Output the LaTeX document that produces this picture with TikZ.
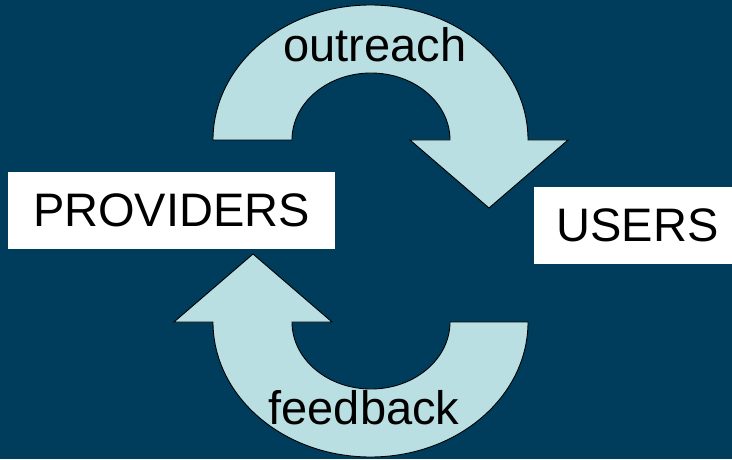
\documentclass[tikz,border=0pt]{standalone}
\usepackage{fontspec}
\setmainfont{Liberation Sans}
\usepackage{xcolor}
\usepackage{tikz}
\usetikzlibrary{positioning}
\definecolor{bgblue}{RGB}{0,61,92}
\definecolor{arrowblue}{RGB}{185,223,226}
\tikzset{box node/.style={rectangle,fill=white,inner sep=0pt,font=\fontsize{47}{56}\selectfont},
	label node/.style={inner sep=0pt,anchor=base,font=\fontsize{47}{56}\selectfont},
	big arrow/.style={fill=arrowblue,draw=black,line width=0.9pt,line join=miter},}

\begin{document}
\begin{tikzpicture}[x=1pt,y=1pt]
	\fill[bgblue] (0,0) rectangle (732,459);
	\useasboundingbox (0,0) rectangle (732,459);

	\node[box node,minimum width=327pt,minimum height=77pt] (prov) at (171.5,248.5) {PROVIDERS};
	\node[box node,minimum width=206pt,minimum height=77pt] (users) [right=199pt of prov,yshift=-15pt] {USERS};

	% outreach: providers to users
	\path[big arrow]
	(213,319) arc[start angle=180,end angle=0,x radius=157.5,y radius=135]
	-- (568,319) -- (489,251) -- (410,319) -- (450,319)
	arc[start angle=0,end angle=180,x radius=79,y radius=67]
	-- cycle;

	% feedback: users to providers
	\path[big arrow]
	(213,137) arc[start angle=180,end angle=360,x radius=157.5,y radius=135]
	-- (450,137)
	arc[start angle=360,end angle=180,x radius=79,y radius=67]
	-- (332,137) -- (253,205) -- (174,137) -- cycle;

	\node[label node] (out) at (375,397) {outreach};
	\node[label node] (feed) at (364,35) {feedback};
\end{tikzpicture}
\end{document}
